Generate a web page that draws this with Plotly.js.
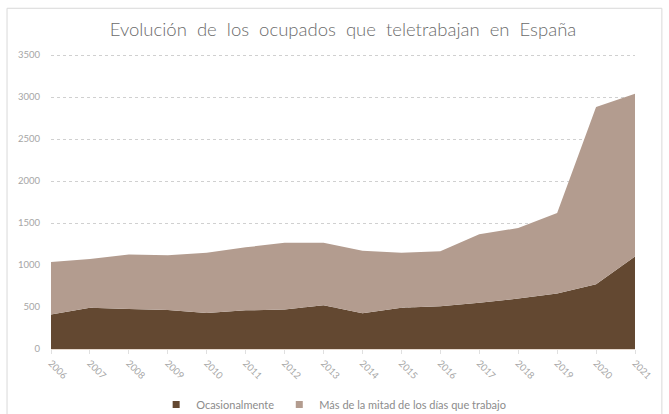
<!DOCTYPE html>
<html>
<head>
<meta charset="utf-8">
<script src="https://cdn.plot.ly/plotly-3.0.1.min.js"></script>
<style>html,body{margin:0;padding:0;background:#fff;}#chart{width:669px;height:414px;}</style>
</head>
<body>
<div id="chart"></div>
<script>
var years = [2006, 2007, 2008, 2009, 2010, 2011, 2012, 2013, 2014, 2015, 2016, 2017, 2018, 2019, 2020, 2021];
var ocasionalmente = [410, 490, 475, 465, 430, 460, 470, 520, 425, 490, 510, 550, 600, 660, 770, 1100];
var masMitad = [625, 580, 650, 650, 715, 750, 795, 745, 745, 655, 655, 815, 840, 960, 2110, 1940];
var seriesNames = ["Ocasionalmente", "Más de la mitad de los días que trabajo"];
var seriesColors = ["#634831", "#b39c8f"];
var yTicks = [0, 500, 1000, 1500, 2000, 2500, 3000, 3500];

var traces = [
  {x: years, y: ocasionalmente, name: seriesNames[0], type: "scatter", mode: "lines",
   stackgroup: "one", line: {width: 0, color: seriesColors[0]}, fillcolor: seriesColors[0], showlegend: false},
  {x: years, y: masMitad, name: seriesNames[1], type: "scatter", mode: "lines",
   stackgroup: "one", line: {width: 0, color: seriesColors[1]}, fillcolor: seriesColors[1], showlegend: false},
  {x: [null], y: [null], name: seriesNames[0], type: "scatter", mode: "markers",
   marker: {symbol: "square", size: 7, color: seriesColors[0]}},
  {x: [null], y: [null], name: seriesNames[1], type: "scatter", mode: "markers",
   marker: {symbol: "square", size: 7, color: seriesColors[1]}}
];

var layout = {
  width: 669, height: 414,
  margin: {l: 51, r: 34, t: 54, b: 64.5, pad: 0, autoexpand: false},
  paper_bgcolor: "#ffffff", plot_bgcolor: "#ffffff",
  font: {family: "Lato, 'Open Sans', sans-serif", color: "#a6a6a6", size: 9},
  title: {text: "Evolución  de  los  ocupados  que  teletrabajan  en  España",
          font: {family: "Lato, sans-serif", size: 18.5, color: "#6b6b6b", weight: 300},
          x: 0.5, xanchor: "center", y: 0.928, yanchor: "middle", xref: "paper"},
  showlegend: true,
  legend: {orientation: "h", x: 0.484, xanchor: "center", y: -0.188, yanchor: "middle",
           font: {size: 11, color: "#8c8c8c"}, traceorder: "normal", itemwidth: 30,
           tracegroupgap: 0},
  xaxis: {range: [2006, 2021], tickmode: "array", tickvals: years, ticktext: years.map(String),
          tickangle: 45, showgrid: false, zeroline: false, showline: true, linecolor: "#e6d9ce",
          linewidth: 1, ticks: "outside", ticklen: 4, tickcolor: "#e0e0e0", automargin: false,
          tickfont: {size: 9.5, color: "#a6a6a6"}, fixedrange: true},
  yaxis: {range: [0, 3512], tickmode: "array", tickvals: yTicks, ticktext: yTicks.map(String),
          showgrid: true, gridcolor: "#d0d0d0", griddash: "dot", gridwidth: 1, automargin: false,
          zeroline: false, showline: false, ticks: "", ticklabelstandoff: 10,
          tickfont: {size: 9.5, color: "#a6a6a6"}, fixedrange: true},
  shapes: [
    {type: "rect", xref: "paper", yref: "paper", x0: -0.0753, x1: 1.046, y0: -0.25, y1: 1.155,
     line: {color: "#d9d9d9", width: 1}, fillcolor: "rgba(0,0,0,0)", layer: "below"}
  ]
};

Plotly.newPlot("chart", traces, layout, {staticPlot: true, displayModeBar: false});
</script>
</body>
</html>
